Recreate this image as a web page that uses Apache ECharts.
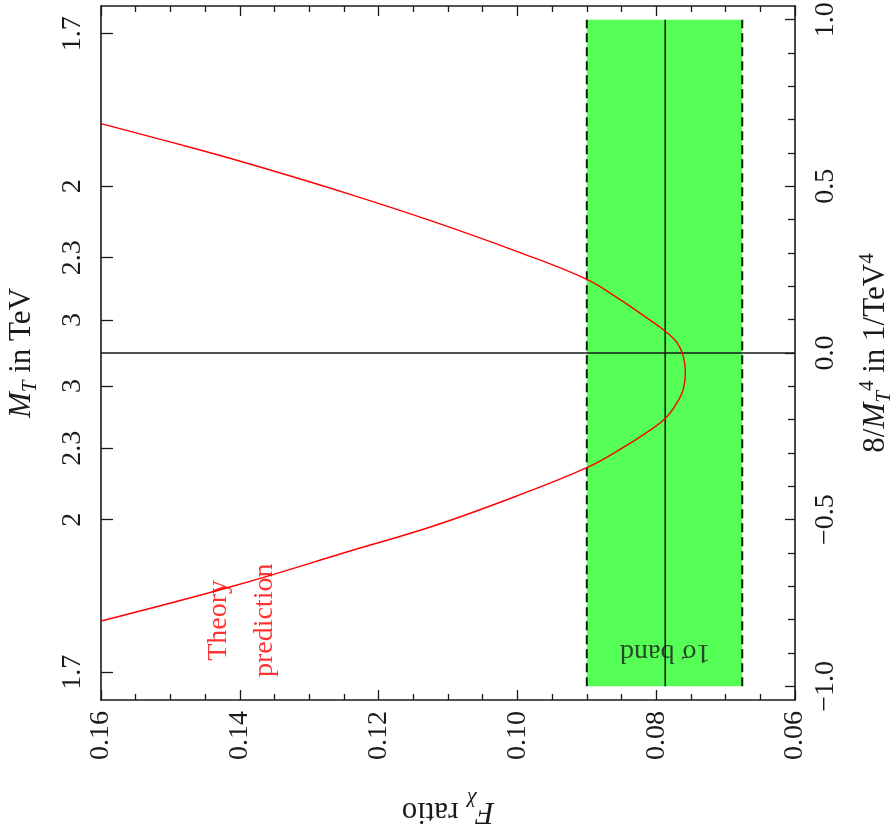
<!DOCTYPE html>
<html>
<head>
<meta charset="utf-8">
<script src="https://cdn.jsdelivr.net/npm/echarts@6/dist/echarts.min.js"></script>
<style>
  html, body { margin: 0; padding: 0; background: #fff; overflow: hidden; }
  #chart { width: 894px; height: 837px; }
</style>
</head>
<body>
<div id="chart"></div>
<script>
// ---- data ----
// F_chi ratio values (x) and 8/M_T^4 values (y) of the theory curve
const curveF = [0.1600, 0.1457, 0.1361, 0.1241, 0.1122, 0.1001, 0.0900, 0.0852, 0.0814, 0.0786, 0.0770, 0.0761,
                0.0758, 0.0761, 0.0770, 0.0786, 0.0814, 0.0852, 0.0900, 0.1001, 0.1121, 0.1241, 0.1409, 0.1600];
const curveY = [0.688, 0.609, 0.552, 0.476, 0.395, 0.305, 0.221, 0.160, 0.106, 0.064, 0.031, -0.010,
                -0.058, -0.109, -0.149, -0.194, -0.239, -0.289, -0.344, -0.429, -0.519, -0.594, -0.699, -0.804];
// 1 sigma band of the measured F_chi ratio
const bandLow = 0.0676;
const bandHigh = 0.0900;
const bandCentral = 0.0787;
const bandYRange = [-1, 1];
// axis ranges and ticks
const xRange = [0.06, 0.16];
const xTickLabels = ['0.06', '0.08', '0.10', '0.12', '0.14', '0.16'];
const yRange = [-1.041, 1.041];
const rightTickValues = [-1.0, -0.5, 0.0, 0.5, 1.0];
const rightTickLabels = ['\u22121.0', '\u22120.5', '0.0', '0.5', '1.0'];
const rightMinorStep = 0.1;
const leftTickMasses = [1.7, 2, 2.3, 3];
const leftTickLabels = ['1.7', '2', '2.3', '3'];
// annotation positions (data coordinates)
const theoryLabelPos = [0.1398, -0.802];
const bandLabelPos = [0.0787, -0.898];

// ---- derived ----
const curveData = curveF.map((f, i) => [f, curveY[i]]);
const leftVals = [], leftMap = {};
leftTickMasses.forEach((m, i) => {
  const v = 8 / Math.pow(m, 4);
  leftVals.push(v, -v);
  leftMap[v.toFixed(5)] = leftTickLabels[i];
  leftMap[(-v).toFixed(5)] = leftTickLabels[i];
});
const rightMap = {};
rightTickValues.forEach((v, i) => rightMap[v.toFixed(2)] = rightTickLabels[i]);
const xMap = {};
xTickLabels.forEach(s => xMap[parseFloat(s).toFixed(2)] = s);
const rightMinor = [];
for (let k = -10; k <= 10; k++) { if (k % 5 !== 0) rightMinor.push(k * rightMinorStep); }

const FONT = "'Liberation Serif', 'DejaVu Serif', serif";
const FS = 28;
const NFS = 31;
const SFS = 21;
const INK = '#1a1a1a';

const base = { fontFamily: FONT, fontSize: NFS, color: INK, lineHeight: 38, verticalAlign: 'middle' };
const rich = {
  n: Object.assign({}, base),
  i: Object.assign({}, base, { fontStyle: 'italic' }),
  sub: { fontFamily: FONT, fontSize: SFS, color: INK, lineHeight: 21, verticalAlign: 'bottom', fontStyle: 'italic' },
  sup: { fontFamily: FONT, fontSize: SFS, color: INK, lineHeight: 21, verticalAlign: 'top' }
};

const axisLine = { show: true, onZero: false, lineStyle: { color: INK, width: 1.6 } };

const chart = echarts.init(document.getElementById('chart'), null, { renderer: 'canvas' });
chart.setOption({
  animation: false,
  backgroundColor: '#fff',
  grid: { left: 101, right: 99, top: 6, bottom: 137, containLabel: false, outerBoundsMode: 'none' },
  xAxis: [
    {
      type: 'value', position: 'bottom', min: xRange[0], max: xRange[1], interval: 0.02, inverse: true,
      axisLine: axisLine,
      axisTick: { show: true, inside: true, length: 10, lineStyle: { color: INK, width: 1.3 } },
      minorTick: { show: true, splitNumber: 4, length: 6, lineStyle: { color: INK, width: 1.3 } },
      splitLine: { show: false },
      axisLabel: {
        rotate: 90, margin: 11, fontFamily: FONT, fontSize: FS, color: INK,
        formatter: v => xMap[v.toFixed(2)] || v.toFixed(2)
      },
      name: '{i|F}{sub|\u03c7}{n| ratio}', nameLocation: 'middle', nameRotate: 180, nameGap: 92,
      nameTextStyle: { rich: rich }
    },
    {
      type: 'value', position: 'top', min: xRange[0], max: xRange[1], interval: 0.02, inverse: true,
      axisLine: axisLine,
      axisTick: { show: true, inside: true, length: 10, lineStyle: { color: INK, width: 1.3 } },
      minorTick: { show: true, splitNumber: 4, length: 6, lineStyle: { color: INK, width: 1.3 } },
      splitLine: { show: false },
      axisLabel: { show: false }
    }
  ],
  yAxis: [
    {
      type: 'value', position: 'left', min: yRange[0], max: yRange[1],
      axisLine: axisLine,
      axisTick: { show: true, inside: true, length: 12, customValues: leftVals, lineStyle: { color: INK, width: 1.3 } },
      splitLine: { show: false },
      axisLabel: {
        rotate: 90, margin: 14, fontFamily: FONT, fontSize: FS, color: INK,
        customValues: leftVals,
        formatter: v => leftMap[v.toFixed(5)] || ''
      },
      name: '{i|M}{sub|T}{n| in TeV}', nameLocation: 'middle', nameRotate: 90, nameGap: 60,
      nameTextStyle: { rich: rich }
    },
    {
      type: 'value', position: 'right', min: yRange[0], max: yRange[1],
      axisLine: axisLine,
      axisTick: { show: true, inside: true, length: 10, customValues: rightTickValues, lineStyle: { color: INK, width: 1.3 } },
      splitLine: { show: false },
      axisLabel: {
        rotate: 90, margin: 17, fontFamily: FONT, fontSize: FS, color: INK,
        customValues: rightTickValues,
        formatter: v => rightMap[v.toFixed(2)] || ''
      },
      name: '{n|8/}{i|M}{sub|T}{sup|4}{n| in 1/TeV}{sup|4}', nameLocation: 'middle', nameRotate: 90, nameGap: 62,
      nameTextStyle: { rich: rich }
    },
    {
      type: 'value', position: 'right', min: yRange[0], max: yRange[1],
      axisLine: { show: false, onZero: false },
      axisTick: { show: true, inside: true, length: 7, customValues: rightMinor, lineStyle: { color: INK, width: 1.3 } },
      splitLine: { show: false },
      axisLabel: { show: false }
    }
  ],
  series: [
    {
      name: 'band', type: 'line', data: [], z: 1, silent: true,
      markArea: {
        silent: true,
        itemStyle: { color: '#55ff55', opacity: 1 },
        data: [[{ xAxis: bandLow, yAxis: bandYRange[0] }, { xAxis: bandHigh, yAxis: bandYRange[1] }]]
      }
    },
    {
      name: 'bandLowEdge', type: 'line', z: 3, symbol: 'none', silent: true,
      data: [[bandLow, bandYRange[0]], [bandLow, bandYRange[1]]],
      lineStyle: { color: INK, width: 2, type: [9, 5] }
    },
    {
      name: 'bandHighEdge', type: 'line', z: 3, symbol: 'none', silent: true,
      data: [[bandHigh, bandYRange[0]], [bandHigh, bandYRange[1]]],
      lineStyle: { color: INK, width: 2, type: [9, 5] }
    },
    {
      name: 'central', type: 'line', z: 3, symbol: 'none', silent: true,
      data: [[bandCentral, bandYRange[0]], [bandCentral, bandYRange[1]]],
      lineStyle: { color: INK, width: 1.6 }
    },
    {
      name: 'zero', type: 'line', z: 3, symbol: 'none', silent: true,
      data: [[xRange[1], 0], [xRange[0], 0]],
      lineStyle: { color: INK, width: 1.6 }
    },
    {
      name: 'theory', type: 'line', z: 4, symbol: 'none', smooth: 0.4, silent: true,
      data: curveData,
      lineStyle: { color: '#ff0000', width: 1.4 }
    },
    {
      name: 'theoryLabel', type: 'scatter', z: 5, symbolSize: 0, silent: true,
      data: [theoryLabelPos],
      label: {
        show: true, position: 'inside', rotate: 90, formatter: 'Theory\nprediction',
        fontFamily: FONT, fontSize: FS, color: '#ff0000', lineHeight: 46, align: 'center', verticalAlign: 'middle'
      }
    },
    {
      name: 'bandLabel', type: 'scatter', z: 2, symbolSize: 0, silent: true,
      data: [bandLabelPos],
      label: {
        show: true, position: 'inside', rotate: 180, formatter: '1\u03c3 band',
        fontFamily: FONT, fontSize: FS, color: INK, align: 'center', verticalAlign: 'middle'
      }
    }
  ]
});
</script>
</body>
</html>
